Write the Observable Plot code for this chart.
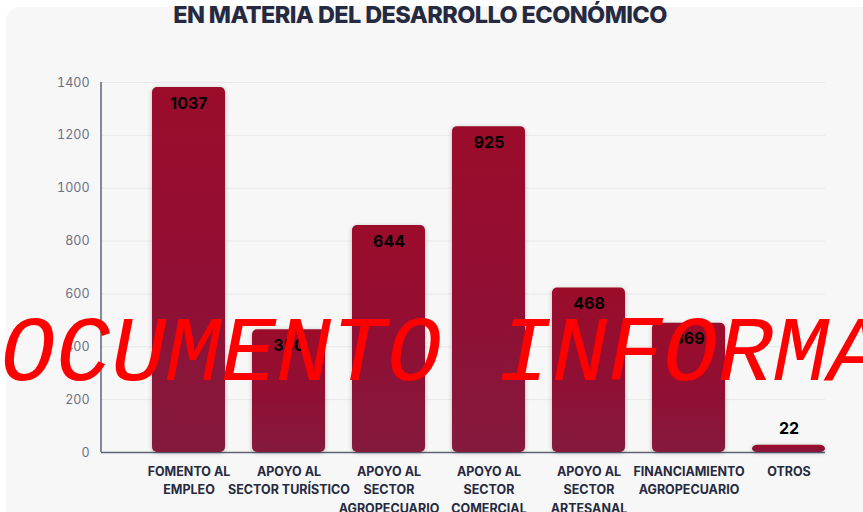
<!DOCTYPE html>
<html>
<head>
<meta charset="utf-8">
<script src="https://cdn.jsdelivr.net/npm/d3@7"></script>
<script src="https://cdn.jsdelivr.net/npm/@observablehq/plot@0.6"></script>
<style>
  html, body { margin: 0; padding: 0; background: #ffffff; }
  #wrap { position: relative; width: 863px; height: 512px; overflow: hidden; font-family: Inter, "Noto Sans", sans-serif; }
  #panel { position: absolute; left: 6px; top: 7px; width: 900px; height: 560px; background: #f7f7f7; border-radius: 14px; }
  #title { position: absolute; left: 0; width: 840px; top: 0px; text-align: center; font-weight: 800; font-size: 23.5px; letter-spacing: -0.6px; color: #262a40; }
  #chart { position: absolute; left: 0; top: 0; }
  #wm { position: absolute; left: -55px; top: 310px; font-family: "Courier New", "Liberation Mono", monospace; font-style: italic; font-size: 92px; color: #ff0000; white-space: pre; line-height: 1; pointer-events: none; }
  #chart rect.bar { filter: drop-shadow(0 1px 2px rgba(0,0,0,0.25)); }
</style>
</head>
<body>
<div id="wrap">
  <div id="panel"></div>
  <div id="title">EN MATERIA DEL DESARROLLO ECONÓMICO</div>
  <div id="chart"></div>
  <div id="wm">DOCUMENTO INFORMATIVO</div>
</div>
<script>
// Categories (x tick labels, with line breaks as shown)
const categories = [
  "FOMENTO AL\nEMPLEO",
  "APOYO AL\nSECTOR TURÍSTICO",
  "APOYO AL\nSECTOR\nAGROPECUARIO",
  "APOYO AL\nSECTOR\nCOMERCIAL",
  "APOYO AL\nSECTOR\nARTESANAL",
  "FINANCIAMIENTO\nAGROPECUARIO",
  "OTROS"
];
// Value labels printed on the bars
const labels = [1037, 350, 644, 925, 468, 369, 22];
const barHeights = [1381, 464, 859, 1233, 622, 489, 27];
// Y axis ticks
const yTicks = [0, 200, 400, 600, 800, 1000, 1200, 1400];

const data = categories.map((c, i) => ({cat: c, h: barHeights[i], label: labels[i]}));

const chart = Plot.plot({
  width: 863,
  height: 512,
  marginLeft: 101,
  marginRight: 38,
  marginTop: 82,
  marginBottom: 60,
  style: { background: "transparent", color: "#6b7085", fontFamily: "Inter, 'Noto Sans', sans-serif", fontSize: "12.5px" },
  x: { domain: categories, range: [135.6, 841.2], paddingInner: 0.266, paddingOuter: 0.133, axis: null },
  y: { domain: [0, 1400], ticks: yTicks, tickFormat: d => String(d), grid: true, tickSize: 0, tickPadding: 12, label: null },
  marks: [
    Plot.ruleY([0], { stroke: "#5d6478", strokeWidth: 1.5 }),
    Plot.barY(data, { x: "cat", y: "h", fill: "url(#barGrad)", rx: 5, ry: 5 }),
    Plot.text(data.filter(d => d.h > 100), { x: "cat", y: "h", text: d => String(d.label), dy: 16, fill: "#000", fontWeight: 700, fontSize: 16 }),
    Plot.text(data.filter(d => d.h <= 100), { x: "cat", y: "h", text: d => String(d.label), dy: -16, fill: "#000", fontWeight: 700, fontSize: 16 }),
    Plot.text(data, { x: "cat", y: () => 0, text: "cat", lineAnchor: "top", dy: 10, lineHeight: 1.48, fill: "#262a40", fontWeight: 700, fontSize: 12.5 })
  ]
});

// gradient definition for bars
const svg = d3.select(chart);
const defs = svg.insert("defs", ":first-child");
const g = defs.append("linearGradient").attr("id", "barGrad").attr("x1", 0).attr("y1", 0).attr("x2", 0).attr("y2", 1);
g.append("stop").attr("offset", "0%").attr("stop-color", "#9c0c2b");
g.append("stop").attr("offset", "55%").attr("stop-color", "#900f34");
g.append("stop").attr("offset", "100%").attr("stop-color", "#841a3e");
svg.selectAll("g[aria-label='bar'] rect").classed("bar", true);

// vertical y-axis line using the plot's y scale
const yS = chart.scale("y");
svg.append("line")
  .attr("x1", 101).attr("x2", 101)
  .attr("y1", yS.apply(1400)).attr("y2", yS.apply(0))
  .attr("stroke", "#5d6478").attr("stroke-width", 1.5);

document.getElementById("chart").appendChild(chart);
</script>
</body>
</html>
